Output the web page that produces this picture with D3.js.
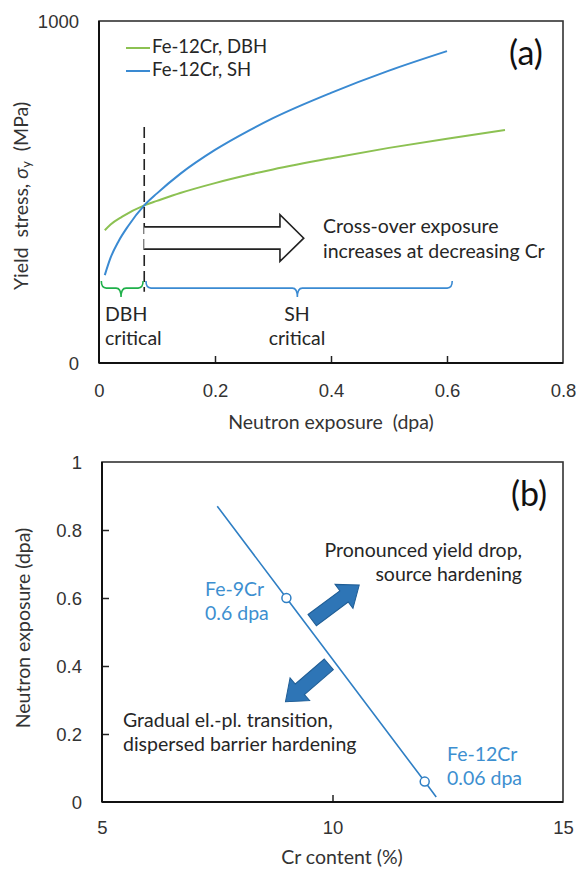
<!DOCTYPE html>
<html>
<head>
<meta charset="utf-8">
<script src="https://cdn.jsdelivr.net/npm/d3@7"></script>
<style>
  body { margin: 0; background: #fff; }
  svg { font-family: Lato, "Open Sans", sans-serif; }
  .tick text { font-size: 18.5px; fill: #333; }
  .axis .domain { display: none; }
  .axis .tick line { stroke: #222; stroke-width: 1.5; }
</style>
</head>
<body>
<svg id="chart" width="576" height="870"></svg>
<script>
// panel (a): yield stress vs neutron exposure
var exposureDBH = [0.01, 0.02, 0.04, 0.078, 0.1, 0.14, 0.2, 0.26, 0.3, 0.4, 0.5, 0.6, 0.7];
var stressDBH   = [388, 405, 428, 461, 474, 497, 526, 551, 566, 599, 629, 656, 681];
var exposureSH  = [0.01, 0.02, 0.034, 0.05, 0.078, 0.1, 0.14, 0.2, 0.26, 0.3, 0.4, 0.5, 0.6];
var stressSH    = [257, 308, 357, 400, 461, 496, 553, 623, 681, 716, 790, 855, 912];
var seriesNames = ["Fe-12Cr, DBH", "Fe-12Cr, SH"];
var xTicksA = [0, 0.2, 0.4, 0.6, 0.8];
var xTickLabelsA = ["0", "0.2", "0.4", "0.6", "0.8"];
var yTicksA = [0, 1000];
var yTickLabelsA = ["0", "1000"];
var crossOver = 0.078;

// panel (b): critical exposure vs Cr content
var crContent = [7.5, 9, 12, 12.25];
var critExposure = [0.87, 0.6, 0.06, 0.015];
var markerCr = [9, 12];
var markerExp = [0.6, 0.06];
var markerLabels = [["Fe-9Cr", "0.6 dpa"], ["Fe-12Cr", "0.06 dpa"]];
var xTicksB = [5, 10, 15];
var yTicksB = [0, 0.2, 0.4, 0.6, 0.8, 1];
var yTickLabelsB = ["0", "0.2", "0.4", "0.6", "0.8", "1"];

var green = "#8cc152", blue = "#3a8ad2", dark = "#262626", fs = 19.5;

var svg = d3.select("#chart");

function label(x, y, s, anchor, color, size) {
  return svg.append("text").attr("x", x).attr("y", y)
    .attr("text-anchor", anchor || "start").attr("dominant-baseline", "middle")
    .attr("font-size", size || fs).attr("fill", color || dark).text(s);
}

// ---------- panel (a) ----------
var xA = d3.scaleLinear().domain([0, 0.8]).range([99, 563]),
    yA = d3.scaleLinear().domain([0, 1000]).range([363, 21]);

var line = d3.line().curve(d3.curveMonotoneX);

svg.append("path")
  .attr("d", line(exposureDBH.map(function(d, i) { return [xA(d), yA(stressDBH[i])]; })))
  .attr("fill", "none").attr("stroke", green).attr("stroke-width", 2);

svg.append("path")
  .attr("d", line(exposureSH.map(function(d, i) { return [xA(d), yA(stressSH[i])]; })))
  .attr("fill", "none").attr("stroke", blue).attr("stroke-width", 2);

// box + axes
svg.append("rect").attr("x", 99).attr("y", 21).attr("width", 464).attr("height", 342)
  .attr("fill", "none").attr("stroke", "#333").attr("stroke-width", 1.6);

var gxA = svg.append("g").attr("class", "axis")
  .attr("transform", "translate(0,363)")
  .call(d3.axisBottom(xA).tickValues(xTicksA).tickSizeInner(-7).tickSizeOuter(0)
    .tickFormat(function(d, i) { return xTickLabelsA[i]; }));
gxA.selectAll(".tick text").attr("y", 28).attr("dy", "0.35em");
gxA.selectAll(".tick").filter(function(d) { return d === 0 || d === 0.8; }).select("line").remove();

var gyA = svg.append("g").attr("class", "axis")
  .attr("transform", "translate(99,0)")
  .call(d3.axisLeft(yA).tickValues(yTicksA).tickSize(0)
    .tickFormat(function(d, i) { return yTickLabelsA[i]; }));
gyA.selectAll(".tick text").attr("x", -20).attr("dy", "0.35em");

svg.append("line").attr("x1", 99).attr("x2", 99).attr("y1", 21).attr("y2", 363)
  .attr("stroke", "#111").attr("stroke-width", 2);
svg.append("line").attr("x1", 99).attr("x2", 563).attr("y1", 363).attr("y2", 363)
  .attr("stroke", "#111").attr("stroke-width", 2);

// axis titles
label(331, 424, "Neutron exposure  (dpa)", "middle", "#333").attr("xml:space", "preserve");

var yt = svg.append("text").attr("transform", "translate(23,196) rotate(-90)")
  .attr("text-anchor", "middle").attr("dominant-baseline", "middle")
  .attr("font-size", fs).attr("fill", "#333").attr("xml:space", "preserve");
yt.append("tspan").text("Yield  stress, ");
yt.append("tspan").attr("font-style", "italic").text("σ");
yt.append("tspan").attr("font-size", 13).attr("dy", 5).text("y");
yt.append("tspan").attr("dy", -5).text("  (MPa)");

// legend
[green, blue].forEach(function(c, i) {
  var ly = 48 + i * 23;
  svg.append("line").attr("x1", 126).attr("x2", 150).attr("y1", ly).attr("y2", ly)
    .attr("stroke", c).attr("stroke-width", 2);
  label(152, ly, seriesNames[i], "start", dark, 18.5);
});

label(526, 56, "(a)", "middle", "#111", 34);

// dashed cross-over line
svg.append("line").attr("x1", xA(crossOver)).attr("x2", xA(crossOver))
  .attr("y1", yA(690)).attr("y2", yA(208))
  .attr("stroke", "#222").attr("stroke-width", 1.6).attr("stroke-dasharray", "11,5");

// hollow arrow
var ax0 = xA(crossOver), axh = xA(0.312), axt = xA(0.353);
svg.append("path")
  .attr("d", "M" + ax0 + "," + yA(398) + "L" + axh + "," + yA(398) + "L" + axh + "," + yA(434) +
    "L" + axt + "," + yA(365) + "L" + axh + "," + yA(297) + "L" + axh + "," + yA(333) +
    "L" + ax0 + "," + yA(333))
  .attr("fill", "#fff").attr("stroke", "#222").attr("stroke-width", 1.6);

label(323, 228, "Cross-over exposure");
label(323, 253, "increases at decreasing Cr");

// curly brackets
function bracket(x1, x2, xm, y) {
  var r = 5, h = 7, t = 9;
  return "M" + x1 + "," + (y - h) + "Q" + x1 + "," + y + " " + (x1 + r) + "," + y +
    "L" + (xm - r) + "," + y + "Q" + xm + "," + y + " " + xm + "," + (y + t) +
    "Q" + xm + "," + y + " " + (xm + r) + "," + y +
    "L" + (x2 - r) + "," + y + "Q" + x2 + "," + y + " " + x2 + "," + (y - h);
}
svg.append("path").attr("d", bracket(xA(0.004), xA(0.076), xA(0.038), yA(219)))
  .attr("fill", "none").attr("stroke", "#1fb04a").attr("stroke-width", 1.6);
svg.append("path").attr("d", bracket(xA(0.081), xA(0.609), xA(0.342), yA(219)))
  .attr("fill", "none").attr("stroke", blue).attr("stroke-width", 1.6);

label(105, 316, "DBH");
label(105, 340, "critical");
label(297, 316, "SH", "middle");
label(297, 340, "critical", "middle");

// ---------- panel (b) ----------
var xB = d3.scaleLinear().domain([5, 15]).range([102, 563]),
    yB = d3.scaleLinear().domain([0, 1]).range([802, 462]);

svg.append("rect").attr("x", 102).attr("y", 462).attr("width", 461).attr("height", 340)
  .attr("fill", "none").attr("stroke", "#333").attr("stroke-width", 1.6);

var gxB = svg.append("g").attr("class", "axis")
  .attr("transform", "translate(0,802)")
  .call(d3.axisBottom(xB).tickValues(xTicksB).tickSizeInner(-7).tickSizeOuter(0));
gxB.selectAll(".tick text").attr("y", 26).attr("dy", "0.35em");
gxB.selectAll(".tick").filter(function(d) { return d !== 10; }).select("line").remove();

var gyB = svg.append("g").attr("class", "axis")
  .attr("transform", "translate(102,0)")
  .call(d3.axisLeft(yB).tickValues(yTicksB).tickSizeInner(-7).tickSizeOuter(0)
    .tickFormat(function(d, i) { return yTickLabelsB[i]; }));
gyB.selectAll(".tick text").attr("x", -20).attr("dy", "0.35em");
gyB.selectAll(".tick").filter(function(d) { return d === 0 || d === 1; }).select("line").remove();

svg.append("line").attr("x1", 102).attr("x2", 102).attr("y1", 462).attr("y2", 802)
  .attr("stroke", "#111").attr("stroke-width", 2);
svg.append("line").attr("x1", 102).attr("x2", 563).attr("y1", 802).attr("y2", 802)
  .attr("stroke", "#111").attr("stroke-width", 2);

label(342, 859, "Cr content (%)", "middle", "#333");
svg.append("text").attr("transform", "translate(25,628) rotate(-90)")
  .attr("text-anchor", "middle").attr("dominant-baseline", "middle")
  .attr("font-size", fs).attr("fill", "#333").text("Neutron exposure (dpa)");

label(529, 497, "(b)", "middle", "#111", 34);

var lineB = d3.line().x(function(d) { return xB(d[0]); }).y(function(d) { return yB(d[1]); });
svg.append("path")
  .attr("d", lineB(crContent.map(function(d, i) { return [d, critExposure[i]]; })))
  .attr("fill", "none").attr("stroke", "#2f7fc4").attr("stroke-width", 1.6);

svg.selectAll(".marker").data(markerCr).enter().append("circle")
  .attr("class", "marker")
  .attr("cx", function(d) { return xB(d); })
  .attr("cy", function(d, i) { return yB(markerExp[i]); })
  .attr("r", 4.5).attr("fill", "#fff").attr("stroke", "#2f7fc4").attr("stroke-width", 1.5);

var labelPos = [[205, 591], [447, 756]];
markerLabels.forEach(function(lines, i) {
  lines.forEach(function(s, j) {
    label(labelPos[i][0], labelPos[i][1] + j * 24, s, "start", "#3d8fd0");
  });
});

// block arrows
function blockArrow(x0, y0, x1, y1) {
  var dx = x1 - x0, dy = y1 - y0, L = Math.sqrt(dx * dx + dy * dy),
      a = Math.atan2(dy, dx) * 180 / Math.PI, sw = 7, hw = 15, hl = 19;
  var pts = [[0, -sw], [L - hl, -sw], [L - hl, -hw], [L, 0], [L - hl, hw], [L - hl, sw], [0, sw]];
  svg.append("path").attr("d", "M" + pts.join("L") + "Z")
    .attr("transform", "translate(" + x0 + "," + y0 + ") rotate(" + a + ")")
    .attr("fill", "#2e75b6").attr("stroke", "#1f5d95").attr("stroke-width", 1);
}
blockArrow(xB(9.56), yB(0.535), xB(10.58), yB(0.638));
blockArrow(xB(9.92), yB(0.405), xB(8.98), yB(0.295));

label(522, 552, "Pronounced yield drop,", "end");
label(522, 576, "source hardening", "end");
label(123, 722, "Gradual el.-pl. transition,");
label(123, 746, "dispersed barrier hardening");
</script>
</body>
</html>
